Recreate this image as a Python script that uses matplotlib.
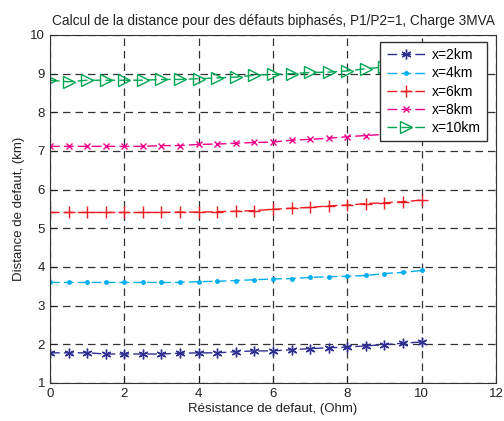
import matplotlib.pyplot as plt
import numpy as np

plt.rcParams['font.family'] = ['Liberation Sans', 'DejaVu Sans']

# fault resistance (Ohm)
r = np.arange(0, 10.5, 0.5)

d_2km = [1.78, 1.78, 1.78, 1.75, 1.75, 1.75, 1.75, 1.77, 1.78, 1.78, 1.81,
         1.83, 1.83, 1.86, 1.89, 1.91, 1.93, 1.96, 1.99, 2.03, 2.06]
d_4km = [3.60, 3.60, 3.60, 3.60, 3.60, 3.60, 3.60, 3.60, 3.62, 3.63, 3.65,
         3.67, 3.69, 3.70, 3.73, 3.75, 3.76, 3.78, 3.83, 3.86, 3.91]
d_6km = [5.41, 5.41, 5.41, 5.41, 5.41, 5.41, 5.41, 5.42, 5.42, 5.43, 5.44,
         5.46, 5.49, 5.52, 5.54, 5.58, 5.60, 5.64, 5.66, 5.69, 5.73]
d_8km = [7.12, 7.12, 7.12, 7.12, 7.12, 7.12, 7.14, 7.14, 7.17, 7.18, 7.20,
         7.22, 7.23, 7.28, 7.30, 7.33, 7.37, 7.40, 7.43, 7.46, 7.50]
d_10km = [8.83, 8.79, 8.83, 8.83, 8.83, 8.83, 8.85, 8.85, 8.87, 8.89, 8.91,
          8.96, 8.98, 9.00, 9.03, 9.04, 9.07, 9.13, 9.17, 9.20, 9.24]

series = [
    (d_2km, 'x=2km', '#2e3192', (6, 2, 0), 7, 'full'),
    (d_4km, 'x=4km', '#00aeef', '.', 5, 'full'),
    (d_6km, 'x=6km', '#ed1c24', '+', 9, 'full'),
    (d_8km, 'x=8km', '#ec008c', 'x', 4.5, 'full'),
    (d_10km, 'x=10km', '#00a651', '>', 8, 'none'),
]

fig = plt.figure(figsize=(5.04, 4.21), dpi=100)
ax = fig.add_axes([0.0992, 0.0903, 0.8848, 0.8266])

for vals, lab, col, mk, ms, fill in series:
    ax.plot(r, vals, linestyle='--', dashes=(7, 3), color=col, linewidth=1,
            marker=mk, markersize=ms, fillstyle=fill, markeredgewidth=1,
            label=lab)

ax.set_xlim(0, 12)
ax.set_ylim(1, 10)
ax.set_xticks(np.arange(0, 13, 2))
ax.set_yticks(np.arange(1, 11, 1))
ax.grid(True, color='#333333', linestyle=(0, (6, 4)), linewidth=0.9)
ax.tick_params(direction='in', labelsize=9.5, colors='#222222', length=4)
for s in ax.spines.values():
    s.set_color('#333333')

ax.set_title('Calcul de la distance pour des défauts biphasés, P1/P2=1, Charge 3MVA',
             fontsize=9.8, color='#222222', pad=7)
ax.set_xlabel('Résistance de defaut, (Ohm)', fontsize=9.5, color='#222222', labelpad=2)
ax.set_ylabel('Distance de defaut, (km)', fontsize=9.5, color='#222222', labelpad=4)

leg = ax.legend(loc='upper right', bbox_to_anchor=(0.98, 0.98), borderaxespad=0,
                fontsize=10, fancybox=False, framealpha=1, edgecolor='#333333',
                handlelength=2.75, borderpad=0.45, labelspacing=0.3,
                handletextpad=0.5)
leg.get_frame().set_linewidth(1)

fig.savefig('out.png', dpi=100)
